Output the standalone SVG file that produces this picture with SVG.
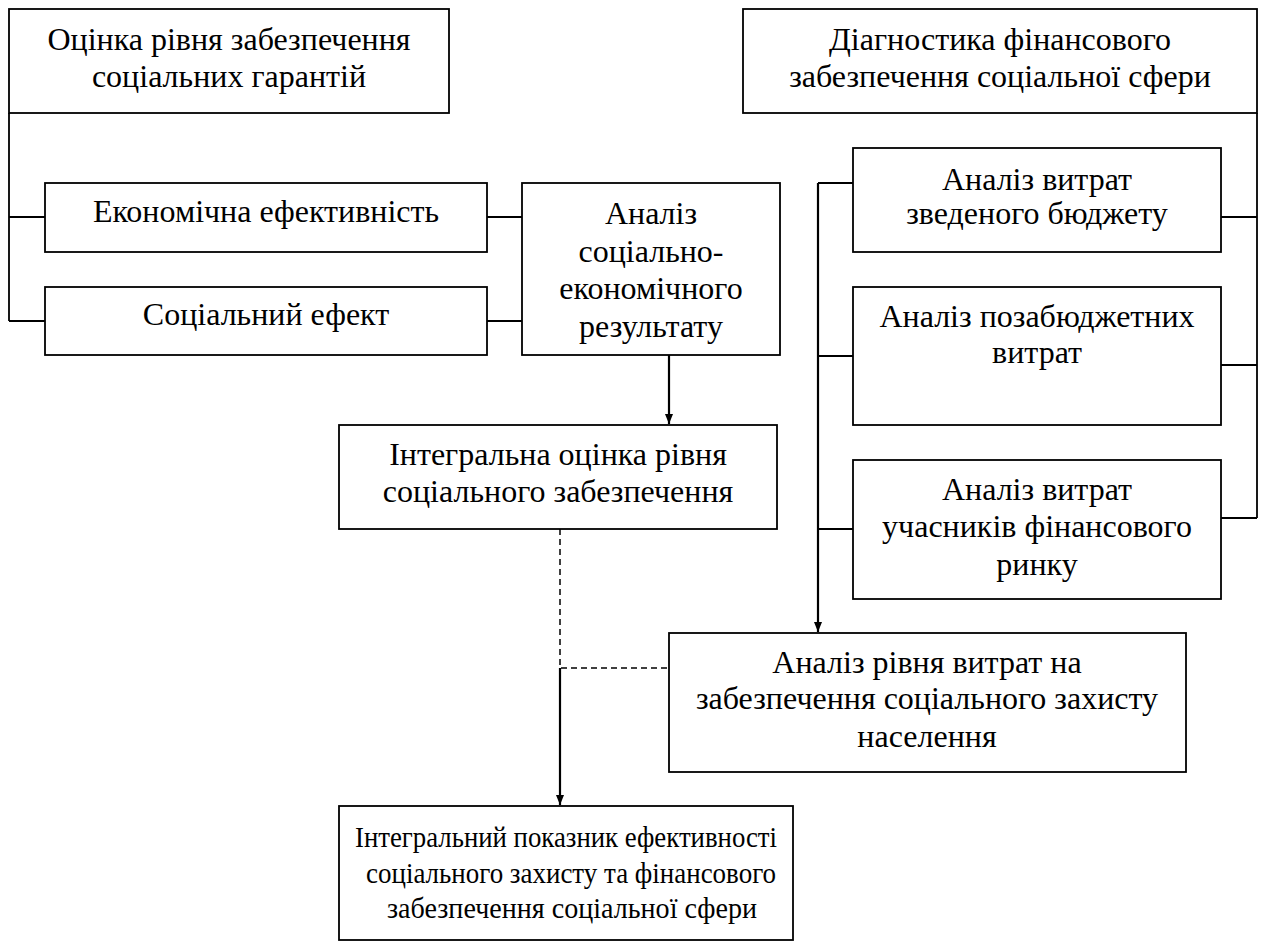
<svg xmlns="http://www.w3.org/2000/svg" width="1262" height="942" viewBox="0 0 1262 942">
<defs>
<style>
.box{fill:#fff;stroke:#000;stroke-width:1.8}
.t{font-family:"Liberation Serif","Times New Roman",serif;font-size:32px;fill:#000;text-anchor:middle}
.s{font-size:30px}
.ln{fill:none;stroke:#000;stroke-width:1.8}
.ar{fill:none;stroke:#000;stroke-width:2.2}
.ds{fill:none;stroke:#000;stroke-width:1.5;stroke-dasharray:6 4}
</style>
<marker id="ah" viewBox="0 0 10 10" refX="10" refY="5" markerWidth="10" markerHeight="10" markerUnits="userSpaceOnUse" orient="auto">
<path d="M0,1 L10,5 L0,9 Z" fill="#000"/>
</marker>
</defs>
<rect width="1262" height="942" fill="#fff"/>
<g id="connectors">
<path class="ln" d="M9,113 V321 M9,217 H45 M9,321 H45"/>
<path class="ln" d="M487,217 H522 M487,321 H522"/>
<path class="ar" d="M669,355 V424" marker-end="url(#ah)"/>
<path class="ln" d="M1257,113 V518 M1221,217 H1257 M1221,365 H1257 M1221,518 H1257"/>
<path class="ln" d="M853,183 H818 M853,356 H818 M853,529 H818"/>
<path class="ar" d="M818,183 V632" marker-end="url(#ah)"/>
<path class="ds" d="M560,529 V668 H669"/>
<path class="ar" d="M560,668 V805" marker-end="url(#ah)"/>
</g>
<g id="n1"><rect class="box" x="9" y="9" width="440" height="104"/>
<text class="t" x="229" y="50">Оцінка рівня забезпечення</text>
<text class="t" x="229" y="87">соціальних гарантій</text></g>
<g id="n2"><rect class="box" x="45" y="183" width="442" height="69"/>
<text class="t" x="266" y="222">Економічна ефективність</text></g>
<g id="n3"><rect class="box" x="45" y="287" width="442" height="68"/>
<text class="t" x="266" y="325">Соціальний ефект</text></g>
<g id="n4"><rect class="box" x="522" y="183" width="258" height="172"/>
<text class="t" x="651" y="224">Аналіз</text>
<text class="t" x="651" y="262">соціально-</text>
<text class="t" x="651" y="299">економічного</text>
<text class="t" x="651" y="337">результату</text></g>
<g id="n5"><rect class="box" x="743" y="9" width="514" height="104"/>
<text class="t" x="1000" y="50">Діагностика фінансового</text>
<text class="t" x="1000" y="87">забезпечення соціальної сфери</text></g>
<g id="n6"><rect class="box" x="853" y="148" width="368" height="104"/>
<text class="t" x="1037" y="190">Аналіз витрат</text>
<text class="t" x="1037" y="224">зведеного бюджету</text></g>
<g id="n7"><rect class="box" x="853" y="287" width="368" height="138"/>
<text class="t" x="1037" y="327">Аналіз позабюджетних</text>
<text class="t" x="1037" y="363">витрат</text></g>
<g id="n8"><rect class="box" x="853" y="460" width="368" height="139"/>
<text class="t" x="1037" y="500">Аналіз витрат</text>
<text class="t" x="1037" y="537">учасників фінансового</text>
<text class="t" x="1037" y="575">ринку</text></g>
<g id="n9"><rect class="box" x="339" y="425" width="438" height="104"/>
<text class="t" x="558" y="465">Інтегральна оцінка рівня</text>
<text class="t" x="558" y="502">соціального забезпечення</text></g>
<g id="n10"><rect class="box" x="669" y="633" width="517" height="139"/>
<text class="t" x="927" y="673">Аналіз рівня витрат на</text>
<text class="t" x="927" y="709">забезпечення соціального захисту</text>
<text class="t" x="927" y="747">населення</text></g>
<g id="n11"><rect class="box" x="339" y="806" width="454" height="134"/>
<text class="t s" x="566" y="847" textLength="422" lengthAdjust="spacingAndGlyphs">Інтегральний показник ефективності</text>
<text class="t s" x="571" y="883" textLength="410" lengthAdjust="spacingAndGlyphs">соціального захисту та фінансового</text>
<text class="t s" x="572" y="918" textLength="370" lengthAdjust="spacingAndGlyphs">забезпечення соціальної сфери</text></g>
</svg>
